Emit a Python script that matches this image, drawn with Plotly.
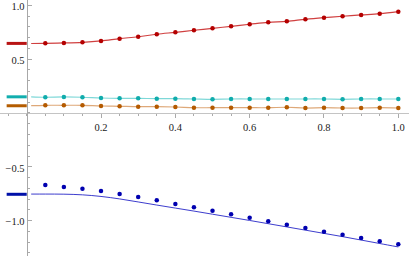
import plotly.graph_objects as go

# ---- data ----
x_pts = [0.05, 0.10, 0.15, 0.20, 0.25, 0.30, 0.35, 0.40, 0.45, 0.50,
         0.55, 0.60, 0.65, 0.70, 0.75, 0.80, 0.85, 0.90, 0.95, 1.00]
red_pts = [0.647, 0.650, 0.656, 0.669, 0.690, 0.708, 0.731, 0.749, 0.768, 0.786,
           0.805, 0.824, 0.842, 0.851, 0.870, 0.885, 0.898, 0.910, 0.922, 0.941]
cyan_pts = [0.146, 0.149, 0.146, 0.139, 0.136, 0.136, 0.133, 0.133, 0.130, 0.127,
            0.130, 0.130, 0.130, 0.130, 0.130, 0.130, 0.127, 0.130, 0.130, 0.130]
orange_pts = [0.0715, 0.0715, 0.0715, 0.065, 0.062, 0.0585, 0.0585, 0.0557, 0.049, 0.049,
              0.049, 0.049, 0.049, 0.053, 0.046, 0.049, 0.046, 0.046, 0.049, 0.046]
blue_pts = [-0.669, -0.687, -0.703, -0.724, -0.752, -0.780, -0.811, -0.845, -0.876, -0.907,
            -0.941, -0.972, -1.006, -1.037, -1.068, -1.102, -1.130, -1.161, -1.191, -1.219]

x_line = [0.012] + x_pts
red_line = [0.645] + red_pts
cyan_line = [0.150] + cyan_pts
orange_line = [0.068] + orange_pts
blue_line = [-0.753, -0.753, -0.754, -0.760, -0.775, -0.798, -0.826, -0.855, -0.883, -0.911,
             -0.940, -0.969, -0.998, -1.028, -1.058, -1.088, -1.118, -1.148, -1.180, -1.212, -1.244]

initial_vals = [0.646, 0.150, 0.067, -0.755]
bar_x = [-0.054, 0.0]

x_ticks = [0.2, 0.4, 0.6, 0.8, 1.0]
x_tick_text = ["0.2", "0.4", "0.6", "0.8", "1.0"]
y_ticks = [-1.0, -0.5, 0.5, 1.0]
y_tick_text = ["\u22121.0", "\u22120.5", "0.5", "1.0"]

# ---- styles ----
pt_colors = ["#b40000", "#10acac", "#b45a00", "#0000b0"]
line_colors = ["rgba(200,30,30,0.85)", "rgba(40,190,190,0.6)", "rgba(200,110,30,0.6)", "rgba(40,40,200,0.9)"]
bar_colors = ["#b81414", "#12aeae", "#b45c00", "#0010a8"]

fig = go.Figure()
lines = [red_line, cyan_line, orange_line]
pts = [red_pts, cyan_pts, orange_pts, blue_pts]

for i, ln in enumerate(lines):
    fig.add_trace(go.Scatter(x=x_line, y=ln, mode="lines", line=dict(color=line_colors[i], width=1.2, shape="spline"),
                             hoverinfo="skip", showlegend=False))
fig.add_trace(go.Scatter(x=x_line, y=blue_line, mode="lines", line=dict(color=line_colors[3], width=1, shape="spline"),
                         hoverinfo="skip", showlegend=False))
for i, p in enumerate(pts):
    fig.add_trace(go.Scatter(x=x_pts, y=p, mode="markers", marker=dict(color=pt_colors[i], size=4.5),
                             showlegend=False))
for i, v in enumerate(initial_vals):
    fig.add_trace(go.Scatter(x=bar_x, y=[v, v], mode="lines", line=dict(color=bar_colors[i], width=3),
                             hoverinfo="skip", showlegend=False))

xr = [-0.0719, 1.0288]
yr = [-1.328, 1.049]
xpos = (0 - xr[0]) / (xr[1] - xr[0])
ypos = (0 - yr[0]) / (yr[1] - yr[0])

tick_font = dict(family="Liberation Serif", size=10.5, color="#222222")

fig.update_layout(
    width=409, height=256,
    margin=dict(l=0, r=0, t=0, b=0),
    paper_bgcolor="white", plot_bgcolor="white",
    font=dict(family="Liberation Serif", size=10.5, color="#222222"),
    xaxis=dict(range=xr, showgrid=False, zeroline=False, anchor="free", position=ypos,
               showline=True, linecolor="#c4c4c4", linewidth=1.5, tickfont=tick_font,
               tickmode="array", tickvals=x_ticks, ticktext=x_tick_text, ticklabeloverflow="allow",
               ticks="outside", ticklen=4, tickcolor="#aaaaaa", tickwidth=1,
               minor=dict(dtick=0.05, tick0=0, ticks="outside", ticklen=2, tickcolor="#aaaaaa")),
    yaxis=dict(range=yr, showgrid=False, zeroline=False, anchor="free", position=xpos,
               showline=True, linecolor="#a8a8a8", linewidth=1, tickfont=tick_font,
               tickmode="array", tickvals=y_ticks, ticktext=y_tick_text, ticklabeloverflow="allow",
               ticklabelshift=1,
               ticks="inside", ticklen=4, tickcolor="#aaaaaa", tickwidth=1,
               minor=dict(dtick=0.1, tick0=0, ticks="inside", ticklen=2, tickcolor="#aaaaaa")),
)

fig.write_html("out.html", config={"displayModeBar": False, "staticPlot": True},
               post_script="document.body.style.margin='0';document.body.style.overflow='hidden';")
